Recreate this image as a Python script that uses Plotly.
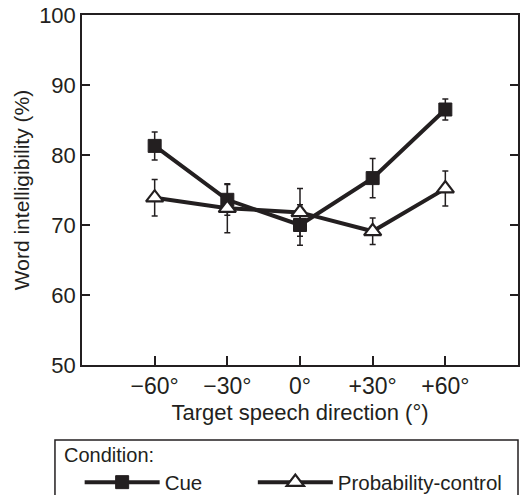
import plotly.graph_objects as go

directions = [-60, -30, 0, 30, 60]
tick_labels = ["\u221260\u00b0", "\u221230\u00b0", "0\u00b0", "+30\u00b0", "+60\u00b0"]
cue_mean = [81.3, 73.6, 70.0, 76.7, 86.5]
cue_err = [2.0, 2.2, 2.9, 2.8, 1.5]
prob_mean = [73.9, 72.4, 71.8, 69.1, 75.2]
prob_err = [2.6, 3.5, 3.4, 1.9, 2.5]

INK = "#231f20"
FONT = "Liberation Sans, Arial, sans-serif"
PAD = "\u00a0" * 8

fig = go.Figure()
fig.add_trace(go.Scatter(
    x=directions, y=cue_mean, name="Cue" + PAD, mode="lines+markers",
    line=dict(color=INK, width=4),
    marker=dict(symbol="square", size=13, color=INK, line=dict(color=INK, width=1)),
    error_y=dict(type="data", array=cue_err, color=INK, thickness=1.5, width=3),
))
fig.add_trace(go.Scatter(
    x=directions, y=prob_mean, name="Probability-control", mode="lines+markers",
    line=dict(color=INK, width=4),
    marker=dict(symbol="triangle-up", size=15, color="white", line=dict(color=INK, width=2.2)),
    error_y=dict(type="data", array=prob_err, color=INK, thickness=1.5, width=3),
))

fig.update_layout(
    width=531, height=495,
    margin=dict(l=82, r=13, t=15, b=130, autoexpand=False),
    paper_bgcolor="white", plot_bgcolor="white",
    font=dict(family=FONT, color=INK, size=20),
    showlegend=True,
    legend=dict(
        orientation="h", xref="container", yref="container",
        x=0.150, xanchor="left", y=0.066, yanchor="top",
        font=dict(size=20.5), bgcolor="rgba(0,0,0,0)", borderwidth=0,
        itemwidth=75, tracegroupgap=0,
    ),
    xaxis=dict(
        range=[-90, 90], tickvals=directions, ticktext=tick_labels,
        ticks="inside", ticklen=9, tickwidth=1.5, tickcolor=INK,
        showline=True, linecolor=INK, linewidth=1.5, mirror=True,
        showgrid=False, zeroline=False,
        tickfont=dict(size=23),
        title=dict(text="Target speech direction (\u00b0)", font=dict(size=22), standoff=6),
    ),
    yaxis=dict(
        range=[50, 100], tickvals=[50, 60, 70, 80, 90, 100],
        ticks="inside", ticklen=8, tickwidth=1.5, tickcolor=INK,
        showline=True, linecolor=INK, linewidth=1.5, mirror="ticks",
        showgrid=False, zeroline=False,
        tickfont=dict(size=22),
        title=dict(text="Word intelligibility (%)", font=dict(size=21), standoff=4),
    ),
    shapes=[dict(type="rect", xref="paper", yref="paper",
                 x0=-0.062, x1=1.0, y0=-0.214, y1=-0.40,
                 line=dict(color=INK, width=1.5))],
    annotations=[dict(text="Condition:", xref="paper", yref="paper",
                      x=-0.046, y=-0.257, xanchor="left", yanchor="middle",
                      showarrow=False, font=dict(size=20, color=INK))],
)

fig.write_html("out.html")
